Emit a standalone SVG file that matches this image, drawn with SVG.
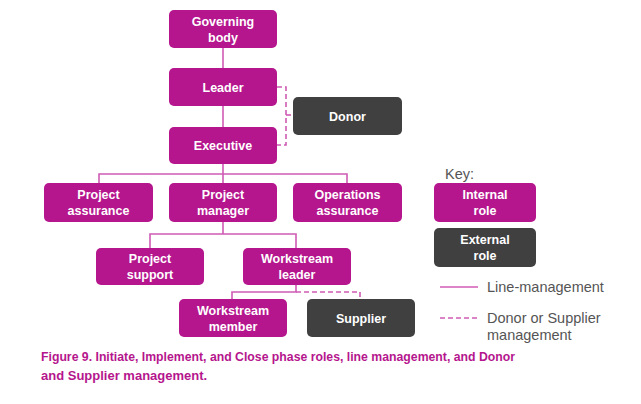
<svg xmlns="http://www.w3.org/2000/svg" width="641" height="404" viewBox="0 0 641 404">
<style>
.int{fill:#b5158d}
.ext{fill:#404040}
.lbl{font-family:"Liberation Sans",Arial,sans-serif;font-weight:bold;font-size:12.5px;fill:#ffffff;text-anchor:middle}
.ln{stroke:#d05bb5;stroke-width:1.6;fill:none}
.dash{stroke:#d05bb5;stroke-width:1.6;fill:none;stroke-dasharray:5,3}
.key{font-family:"Liberation Sans",Arial,sans-serif;font-size:14.5px;fill:#555555}
.cap{font-family:"Liberation Sans",Arial,sans-serif;font-weight:bold;font-size:13px;fill:#b5158d}
</style>
<rect width="641" height="404" fill="#ffffff"/>
<g id="connectors">
<line class="ln" x1="223" y1="48" x2="223" y2="68"/>
<line class="ln" x1="223" y1="106" x2="223" y2="127"/>
<line class="ln" x1="223" y1="164" x2="223" y2="174"/>
<polyline class="ln" points="99,183 99,174 347,174 347,183"/>
<line class="ln" x1="223" y1="174" x2="223" y2="183"/>
<polyline class="ln" points="150,248 150,234 296,234 296,248"/>
<line class="ln" x1="223" y1="222" x2="223" y2="234"/>
<polyline class="ln" points="232,299 232,292 296,292 296,285"/>
<polyline class="dash" points="296,292 360,292 360,299"/>
<polyline class="dash" points="277,87 286,87 286,145 277,145"/>
<line class="dash" x1="286" y1="115" x2="293" y2="115"/>
</g>
<g id="governing-body"><rect class="int" x="169" y="10" width="108" height="38" rx="5"/><text class="lbl" x="223" y="26">Governing</text><text class="lbl" x="223" y="42">body</text></g>
<g id="leader"><rect class="int" x="169" y="68" width="108" height="38" rx="5"/><text class="lbl" x="223" y="91.5">Leader</text></g>
<g id="donor"><rect class="ext" x="293" y="97" width="109" height="38" rx="5"/><text class="lbl" x="347.5" y="120.5">Donor</text></g>
<g id="executive"><rect class="int" x="169" y="127" width="108" height="37" rx="5"/><text class="lbl" x="223" y="150">Executive</text></g>
<g id="project-assurance"><rect class="int" x="44" y="183" width="109" height="39" rx="5"/><text class="lbl" x="98.5" y="199">Project</text><text class="lbl" x="98.5" y="215">assurance</text></g>
<g id="project-manager"><rect class="int" x="169" y="183" width="108" height="39" rx="5"/><text class="lbl" x="223" y="199">Project</text><text class="lbl" x="223" y="215">manager</text></g>
<g id="operations-assurance"><rect class="int" x="293" y="183" width="109" height="39" rx="5"/><text class="lbl" x="347.5" y="199">Operations</text><text class="lbl" x="347.5" y="215">assurance</text></g>
<g id="project-support"><rect class="int" x="96" y="248" width="108" height="37" rx="5"/><text class="lbl" x="150" y="263">Project</text><text class="lbl" x="150" y="279">support</text></g>
<g id="workstream-leader"><rect class="int" x="243" y="248" width="108" height="37" rx="5"/><text class="lbl" x="297" y="263">Workstream</text><text class="lbl" x="297" y="279">leader</text></g>
<g id="workstream-member"><rect class="int" x="179" y="299" width="108" height="38" rx="5"/><text class="lbl" x="233" y="315">Workstream</text><text class="lbl" x="233" y="331">member</text></g>
<g id="supplier"><rect class="ext" x="307" y="299" width="108" height="38" rx="5"/><text class="lbl" x="361" y="322.5">Supplier</text></g>
<g id="key">
<text class="key" x="445" y="179">Key:</text>
<rect class="int" x="434" y="183" width="102" height="39" rx="5"/><text class="lbl" x="485" y="199">Internal</text><text class="lbl" x="485" y="215">role</text>
<rect class="ext" x="434" y="228" width="102" height="39" rx="5"/><text class="lbl" x="485" y="244">External</text><text class="lbl" x="485" y="260">role</text>
<line class="ln" x1="440" y1="287" x2="478" y2="287"/>
<text class="key" x="487" y="292">Line-management</text>
<line class="dash" x1="440" y1="318" x2="478" y2="318"/>
<text class="key" x="487" y="323">Donor or Supplier</text>
<text class="key" x="487" y="340">management</text>
</g>
<text class="cap" x="41" y="361" textLength="474" lengthAdjust="spacingAndGlyphs">Figure 9. Initiate, Implement, and Close phase roles, line management, and Donor</text>
<text class="cap" x="41" y="380">and Supplier management.</text>
</svg>
